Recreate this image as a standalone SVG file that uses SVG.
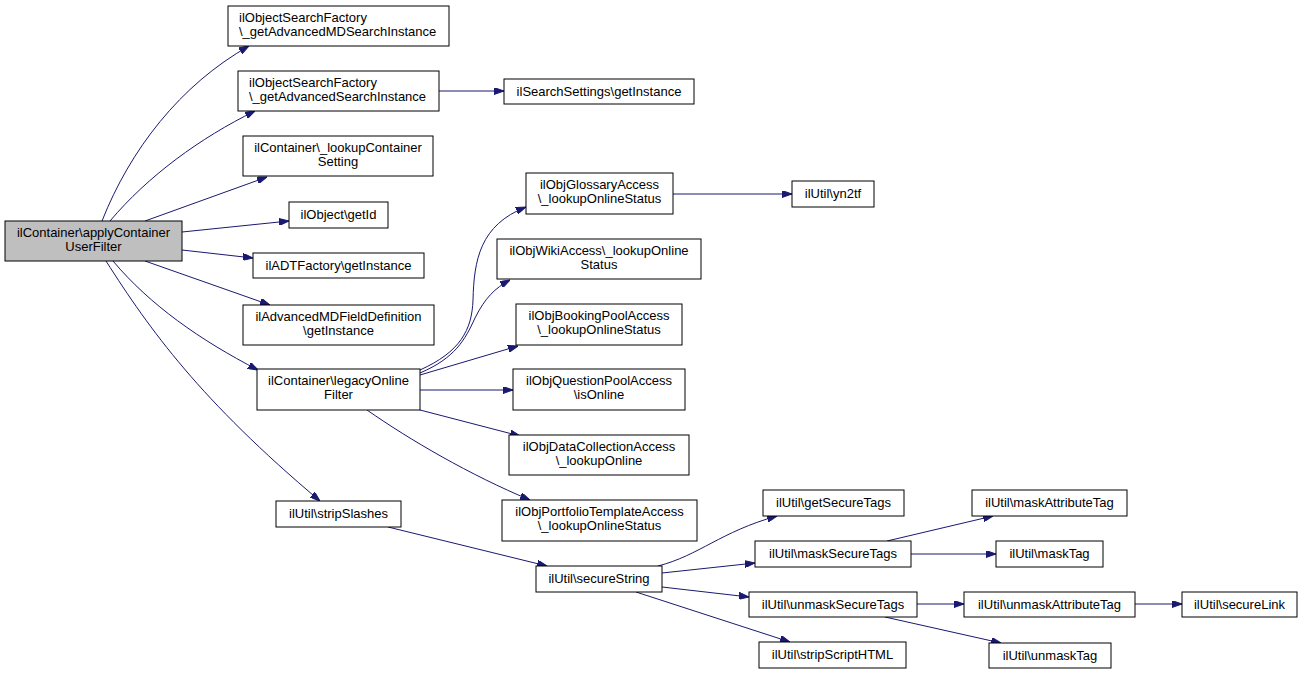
<svg xmlns="http://www.w3.org/2000/svg" width="1303" height="674" viewBox="0 0 1303 674">
<defs>
<style>
.n rect{fill:#ffffff;stroke:#000000;stroke-width:1}
.n.root rect{fill:#bfbfbf}
.n text{font-family:"Liberation Sans",Arial,Helvetica,sans-serif;font-size:13px;fill:#000000;text-anchor:middle}
.n text.l{text-anchor:start}
#edges path{fill:none;stroke:#191970;stroke-width:1;marker-end:url(#arr)}
</style>
<marker id="arr" markerUnits="userSpaceOnUse" markerWidth="10" markerHeight="7" refX="10" refY="3.5" orient="auto">
<path d="M0,0 L10,3.5 L0,7 z" fill="#191970" stroke="#191970" stroke-width="1"/>
</marker>
</defs>
<rect x="0" y="0" width="1303" height="674" fill="#ffffff"/>
<g id="edges">
<path d="M102,221 C130,150 180,85 249,46"/>
<path d="M110,221 C148,176 200,138 255,111"/>
<path d="M145,221 L267,177"/>
<path d="M182,232 L289,221"/>
<path d="M182,250 L253,258"/>
<path d="M145,261 L270,305"/>
<path d="M113,261 C150,305 200,340 258,370"/>
<path d="M106,261 C150,330 200,400 320,501"/>
<path d="M439,91 L504,91"/>
<path d="M420,370 C460,352 472,330 473,300 C474,260 480,225 526,207"/>
<path d="M420,373 C455,358 465,340 475,318 C485,298 495,288 510,280"/>
<path d="M420,375 L518,346"/>
<path d="M420,390 L513,390"/>
<path d="M420,410 L520,436"/>
<path d="M367,410 C410,440 470,475 530,500"/>
<path d="M388,527 L547,566"/>
<path d="M658,566 C700,555 720,532 777,516"/>
<path d="M662,573 L755,563"/>
<path d="M662,587 L749,597"/>
<path d="M636,592 L790,642"/>
<path d="M887,541 L993,516"/>
<path d="M911,554 L996,554"/>
<path d="M917,604 L964,604"/>
<path d="M885,617 L1001,643"/>
<path d="M1135,604 L1182,604"/>
<path d="M673,194 L792,194"/>
</g>
<g id="n1" class="n root"><rect x="5" y="221" width="177" height="40"/><text x="93.5" y="237">ilContainer\applyContainer</text><text x="93.5" y="251">UserFilter</text></g>
<g id="n2" class="n"><rect x="228" y="6" width="221" height="40"/><text class="l" x="239" y="22">ilObjectSearchFactory</text><text class="l" x="239" y="36">\_getAdvancedMDSearchInstance</text></g>
<g id="n3" class="n"><rect x="238" y="71" width="201" height="40"/><text class="l" x="249" y="87">ilObjectSearchFactory</text><text class="l" x="249" y="101">\_getAdvancedSearchInstance</text></g>
<g id="n4" class="n"><rect x="243" y="136" width="190" height="40"/><text x="338" y="152">ilContainer\_lookupContainer</text><text x="338" y="166">Setting</text></g>
<g id="n5" class="n"><rect x="289" y="202" width="99" height="26"/><text x="338.5" y="219">ilObject\getId</text></g>
<g id="n6" class="n"><rect x="253" y="253" width="171" height="25"/><text x="338.5" y="270">ilADTFactory\getInstance</text></g>
<g id="n7" class="n"><rect x="243" y="305" width="191" height="40"/><text x="338.5" y="321">ilAdvancedMDFieldDefinition</text><text x="338.5" y="335">\getInstance</text></g>
<g id="n8" class="n"><rect x="257" y="369" width="163" height="41"/><text x="338.5" y="385">ilContainer\legacyOnline</text><text x="338.5" y="399">Filter</text></g>
<g id="n9" class="n"><rect x="276" y="501" width="125" height="26"/><text x="338.5" y="518">ilUtil\stripSlashes</text></g>
<g id="n10" class="n"><rect x="504" y="79" width="190" height="25"/><text x="599" y="96">ilSearchSettings\getInstance</text></g>
<g id="n11" class="n"><rect x="526" y="173" width="147" height="41"/><text x="599.5" y="189">ilObjGlossaryAccess</text><text x="599.5" y="203">\_lookupOnlineStatus</text></g>
<g id="n12" class="n"><rect x="497" y="239" width="204" height="40"/><text x="599" y="255">ilObjWikiAccess\_lookupOnline</text><text x="599" y="269">Status</text></g>
<g id="n13" class="n"><rect x="516" y="304" width="166" height="41"/><text x="599" y="320">ilObjBookingPoolAccess</text><text x="599" y="334">\_lookupOnlineStatus</text></g>
<g id="n14" class="n"><rect x="513" y="369" width="172" height="41"/><text x="599" y="385">ilObjQuestionPoolAccess</text><text x="599" y="399">\isOnline</text></g>
<g id="n15" class="n"><rect x="509" y="435" width="180" height="40"/><text x="599" y="451">ilObjDataCollectionAccess</text><text x="599" y="465">\_lookupOnline</text></g>
<g id="n16" class="n"><rect x="502" y="500" width="195" height="41"/><text x="599.5" y="516">ilObjPortfolioTemplateAccess</text><text x="599.5" y="530">\_lookupOnlineStatus</text></g>
<g id="n17" class="n"><rect x="536" y="566" width="126" height="26"/><text x="599" y="583">ilUtil\secureString</text></g>
<g id="n18" class="n"><rect x="792" y="181" width="82" height="26"/><text x="833" y="198">ilUtil\yn2tf</text></g>
<g id="n19" class="n"><rect x="763" y="490" width="141" height="26"/><text x="833.5" y="507">ilUtil\getSecureTags</text></g>
<g id="n20" class="n"><rect x="755" y="541" width="156" height="26"/><text x="833" y="558">ilUtil\maskSecureTags</text></g>
<g id="n21" class="n"><rect x="749" y="592" width="168" height="25"/><text x="833" y="609">ilUtil\unmaskSecureTags</text></g>
<g id="n22" class="n"><rect x="759" y="642" width="147" height="26"/><text x="832.5" y="659">ilUtil\stripScriptHTML</text></g>
<g id="n23" class="n"><rect x="972" y="490" width="155" height="26"/><text x="1049.5" y="507">ilUtil\maskAttributeTag</text></g>
<g id="n24" class="n"><rect x="996" y="541" width="107" height="26"/><text x="1049.5" y="558">ilUtil\maskTag</text></g>
<g id="n25" class="n"><rect x="964" y="592" width="171" height="25"/><text x="1049.5" y="609">ilUtil\unmaskAttributeTag</text></g>
<g id="n26" class="n"><rect x="1182" y="592" width="115" height="25"/><text x="1239.5" y="609">ilUtil\secureLink</text></g>
<g id="n27" class="n"><rect x="989" y="643" width="122" height="25"/><text x="1050" y="660">ilUtil\unmaskTag</text></g>
</svg>
